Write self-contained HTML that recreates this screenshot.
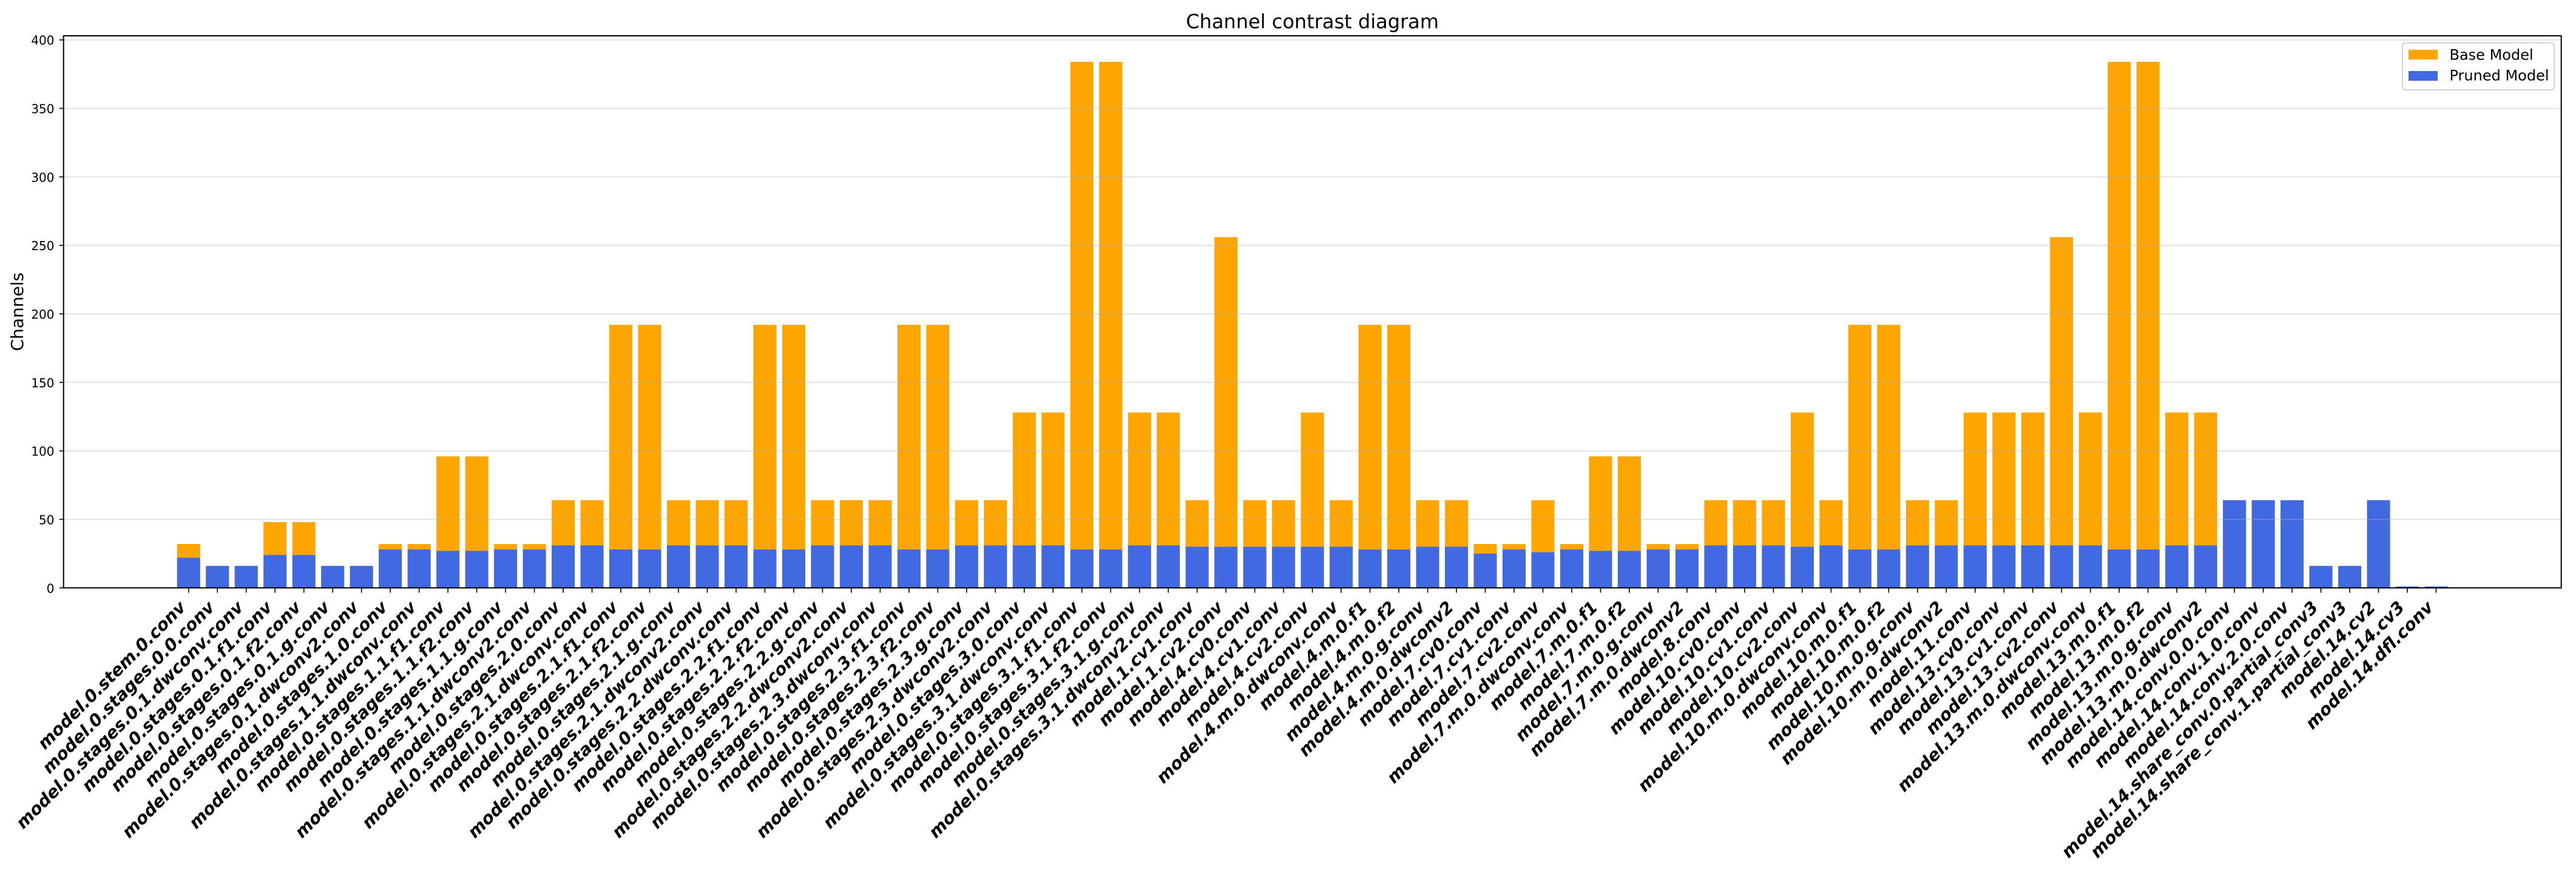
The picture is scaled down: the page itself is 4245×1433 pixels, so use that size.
<!DOCTYPE html>
<html lang="en">
<head>
<meta charset="utf-8">
<title>Channel contrast diagram</title>
<style>
html,body{margin:0;padding:0;background:#fff;}
#chart{display:block;font-family:"DejaVu Sans","Liberation Sans",sans-serif;}
</style>
</head>
<body>
<svg id="chart" xmlns="http://www.w3.org/2000/svg" width="4245" height="1433" viewBox="0 0 4245 1433">
  <rect x="0" y="0" width="4245" height="1433" fill="#ffffff"/>
  <g id="base-bars"></g>
  <g id="pruned-bars"></g>
  <g id="grid"></g>
  <g id="x-ticks"></g>
  <g id="y-ticks"></g>
  <g id="x-labels"></g>
  <g id="y-labels"></g>
  <rect x="104.7" y="59" width="4116" height="909.3" fill="none" stroke="#000" stroke-width="2"/>
  <text x="2162.7" y="46.7" font-size="32" text-anchor="middle" fill="#000">Channel contrast diagram</text>
  <text transform="translate(38 513.5) rotate(-90)" font-size="28" text-anchor="middle" fill="#000">Channels</text>
  <g>
    <rect x="3959" y="70.5" width="250" height="77.5" rx="5" ry="5" fill="#fff" fill-opacity="0.8" stroke="#d3d3d3" stroke-width="2"/>
    <rect x="3969" y="82" width="48" height="16" fill="#ffa500"/>
    <text x="4036.5" y="98.7" font-size="24" fill="#000">Base Model</text>
    <rect x="3969" y="117" width="48" height="16" fill="#4169e1"/>
    <text x="4036.5" y="132.7" font-size="24" fill="#000">Pruned Model</text>
  </g>
</svg>
<script>
const categories = [
"model.0.stem.0.conv","model.0.stages.0.0.conv","model.0.stages.0.1.dwconv.conv","model.0.stages.0.1.f1.conv","model.0.stages.0.1.f2.conv","model.0.stages.0.1.g.conv","model.0.stages.0.1.dwconv2.conv",
"model.0.stages.1.0.conv","model.0.stages.1.1.dwconv.conv","model.0.stages.1.1.f1.conv","model.0.stages.1.1.f2.conv","model.0.stages.1.1.g.conv","model.0.stages.1.1.dwconv2.conv",
"model.0.stages.2.0.conv","model.0.stages.2.1.dwconv.conv","model.0.stages.2.1.f1.conv","model.0.stages.2.1.f2.conv","model.0.stages.2.1.g.conv","model.0.stages.2.1.dwconv2.conv",
"model.0.stages.2.2.dwconv.conv","model.0.stages.2.2.f1.conv","model.0.stages.2.2.f2.conv","model.0.stages.2.2.g.conv","model.0.stages.2.2.dwconv2.conv",
"model.0.stages.2.3.dwconv.conv","model.0.stages.2.3.f1.conv","model.0.stages.2.3.f2.conv","model.0.stages.2.3.g.conv","model.0.stages.2.3.dwconv2.conv",
"model.0.stages.3.0.conv","model.0.stages.3.1.dwconv.conv","model.0.stages.3.1.f1.conv","model.0.stages.3.1.f2.conv","model.0.stages.3.1.g.conv","model.0.stages.3.1.dwconv2.conv",
"model.1.cv1.conv","model.1.cv2.conv","model.4.cv0.conv","model.4.cv1.conv","model.4.cv2.conv",
"model.4.m.0.dwconv.conv","model.4.m.0.f1","model.4.m.0.f2","model.4.m.0.g.conv","model.4.m.0.dwconv2",
"model.7.cv0.conv","model.7.cv1.conv","model.7.cv2.conv","model.7.m.0.dwconv.conv","model.7.m.0.f1","model.7.m.0.f2","model.7.m.0.g.conv","model.7.m.0.dwconv2",
"model.8.conv","model.10.cv0.conv","model.10.cv1.conv","model.10.cv2.conv","model.10.m.0.dwconv.conv","model.10.m.0.f1","model.10.m.0.f2","model.10.m.0.g.conv","model.10.m.0.dwconv2",
"model.11.conv","model.13.cv0.conv","model.13.cv1.conv","model.13.cv2.conv","model.13.m.0.dwconv.conv","model.13.m.0.f1","model.13.m.0.f2","model.13.m.0.g.conv","model.13.m.0.dwconv2",
"model.14.conv.0.0.conv","model.14.conv.1.0.conv","model.14.conv.2.0.conv","model.14.share_conv.0.partial_conv3","model.14.share_conv.1.partial_conv3","model.14.cv2","model.14.cv3","model.14.dfl.conv"
];
const baseValues = [
32,16,16,48,48,16,16,
32,32,96,96,32,32,
64,64,192,192,64,64,
64,192,192,64,64,
64,192,192,64,64,
128,128,384,384,128,128,
64,256,64,64,128,
64,192,192,64,64,
32,32,64,32,96,96,32,32,
64,64,64,128,64,192,192,64,64,
128,128,128,256,128,384,384,128,128,
64,64,64,16,16,64,1,1
];
const prunedValues = [
22,16,16,24,24,16,16,
28,28,27,27,28,28,
31,31,28,28,31,31,
31,28,28,31,31,
31,28,28,31,31,
31,31,28,28,31,31,
30,30,30,30,30,
30,28,28,30,30,
25,28,26,28,27,27,28,28,
31,31,31,30,31,28,28,31,31,
31,31,31,31,31,28,28,31,31,
64,64,64,16,16,64,1,1
];
const yTickValues = [0,50,100,150,200,250,300,350,400];

const NS = "http://www.w3.org/2000/svg";
const X_ORIGIN = 310.8, X_STEP = 47.484, BAR_RATIO = 0.8;
const Y_ZERO = 968.3, Y_UNIT = 2.2565;
const AXIS_LEFT = 104.7, AXIS_RIGHT = 4220.7;

function xScale(i){ return X_ORIGIN + X_STEP * i; }
function yScale(v){ return Y_ZERO - Y_UNIT * v; }
function make(tag, parentId){
  const el = document.createElementNS(NS, tag);
  document.getElementById(parentId).appendChild(el);
  return el;
}
function bar(parentId, i, value, color){
  const w = X_STEP * BAR_RATIO;
  const el = make("rect", parentId);
  el.setAttribute("x", xScale(i) - w / 2);
  el.setAttribute("y", yScale(value));
  el.setAttribute("width", w);
  el.setAttribute("height", Y_ZERO - yScale(value));
  el.setAttribute("fill", color);
  return el;
}

categories.forEach(function(name, i){
  const b = bar("base-bars", i, baseValues[i], "#ffa500");
  
  
  const p = bar("pruned-bars", i, prunedValues[i], "#4169e1");
  
  

  const t = make("line", "x-ticks");
  
  
  t.setAttribute("x1", xScale(i));
  t.setAttribute("x2", xScale(i));
  t.setAttribute("y1", Y_ZERO);
  t.setAttribute("y2", Y_ZERO + 8);
  t.setAttribute("stroke", "#000");
  t.setAttribute("stroke-width", "1.6");

  const l = make("text", "x-labels");
  
  
  const ax = xScale(i) - 3, ay = 1002;
  l.setAttribute("transform", "translate(" + ax + " " + ay + ") rotate(-45)");
  l.setAttribute("text-anchor", "end");
  l.setAttribute("font-size", "28");
  l.setAttribute("font-weight", "bold");
  l.setAttribute("font-style", "italic");
  l.setAttribute("fill", "#000");
  l.textContent = name;
});

yTickValues.forEach(function(v){
  const g = make("line", "grid");
  
  
  g.setAttribute("x1", AXIS_LEFT);
  g.setAttribute("x2", AXIS_RIGHT);
  g.setAttribute("y1", yScale(v));
  g.setAttribute("y2", yScale(v));
  g.setAttribute("stroke", "#b0b0b0");
  g.setAttribute("stroke-opacity", "0.4");
  g.setAttribute("stroke-width", "1.8");

  const t = make("line", "y-ticks");
  
  
  t.setAttribute("x1", AXIS_LEFT - 7);
  t.setAttribute("x2", AXIS_LEFT);
  t.setAttribute("y1", yScale(v));
  t.setAttribute("y2", yScale(v));
  t.setAttribute("stroke", "#000");
  t.setAttribute("stroke-width", "1.6");

  const l = make("text", "y-labels");
  
  
  l.setAttribute("x", 89.5);
  l.setAttribute("y", yScale(v) + 8);
  l.setAttribute("text-anchor", "end");
  l.setAttribute("font-size", "20");
  l.setAttribute("fill", "#000");
  l.textContent = v;
});
</script>
</body>
</html>
